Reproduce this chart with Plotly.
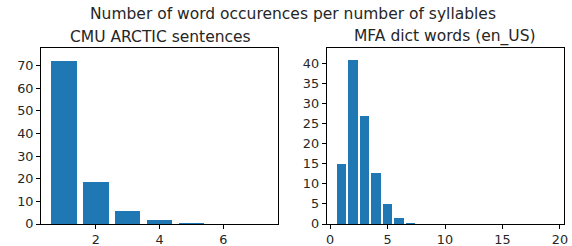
import plotly.graph_objects as go

# Data
cmu_syllables = [1, 2, 3, 4, 5, 6, 7]
cmu_values = [71.9, 18.5, 5.8, 1.8, 0.4, 0.0, 0.0]

mfa_syllables = list(range(1, 20))
mfa_values = [15.0, 40.7, 26.8, 12.8, 4.9, 1.4, 0.25, 0.0, 0.0, 0.0,
              0.0, 0.0, 0.0, 0.0, 0.0, 0.0, 0.0, 0.0, 0.0]

title = "Number of word occurences per number of syllables"
sub_titles = ["CMU ARCTIC sentences", "MFA dict words (en_US)"]

W, H = 572, 246
FONT = "DejaVu Sans"
BLUE = "#1f77b4"
TXT = "#262626"


def px(x):
    return x / W


def py(y):
    return 1 - y / H


fig = go.Figure()
fig.add_trace(go.Bar(x=cmu_syllables, y=cmu_values, width=0.8,
                     marker=dict(color=BLUE, line=dict(width=0)),
                     xaxis="x", yaxis="y", showlegend=False))
fig.add_trace(go.Bar(x=mfa_syllables, y=mfa_values, width=0.8,
                     marker=dict(color=BLUE, line=dict(width=0)),
                     xaxis="x2", yaxis="y2", showlegend=False))

ax_common = dict(showline=True, linecolor="black", linewidth=1, mirror=True,
                 ticks="outside", ticklen=4, tickcolor="black", tickwidth=1,
                 showgrid=False, zeroline=False, automargin=False,
                 tickfont=dict(family=FONT, size=12.8, color=TXT))

y_dom = [py(224), py(48.3)]
L1, R1 = 41, 278.3
L2, R2 = 326.7, 564
fig.update_layout(
    template="none",
    width=W, height=H,
    margin=dict(l=0, r=0, t=0, b=0, pad=0, autoexpand=False),
    paper_bgcolor="white", plot_bgcolor="white",
    bargap=0,
    hovermode=False,
    font=dict(family=FONT, color=TXT),
    xaxis=dict(domain=[px(L1), px(R1)], range=[0.285, 7.72],
               tickvals=[2, 4, 6], anchor="y", **ax_common),
    yaxis=dict(domain=y_dom, range=[0, 77.7],
               tickvals=[0, 10, 20, 30, 40, 50, 60, 70], anchor="x", **ax_common),
    xaxis2=dict(domain=[px(L2), px(R2)], range=[-0.29, 20.35],
                tickvals=[0, 5, 10, 15, 20], anchor="y2", **ax_common),
    yaxis2=dict(domain=y_dom, range=[0, 43.7],
                tickvals=[0, 5, 10, 15, 20, 25, 30, 35, 40], anchor="x2", **ax_common),
    annotations=[
        dict(text=title, x=px(293), y=py(13.5), xref="paper", yref="paper",
             showarrow=False, xanchor="center", yanchor="middle",
             font=dict(family=FONT, size=15.5, color=TXT)),
        dict(text=sub_titles[0], x=px((L1 + R1) / 2 + 1), y=py(36.5),
             xref="paper", yref="paper", showarrow=False,
             xanchor="center", yanchor="middle",
             font=dict(family=FONT, size=15.5, color=TXT)),
        dict(text=sub_titles[1], x=px((L2 + R2) / 2), y=py(36.5),
             xref="paper", yref="paper", showarrow=False,
             xanchor="center", yanchor="middle",
             font=dict(family=FONT, size=15.5, color=TXT)),
    ],
)

fig.write_html(
    "out.html",
    config={"displayModeBar": False, "staticPlot": True},
    post_script="document.body.style.margin='0px';"
                "document.body.style.overflow='hidden';",
)
